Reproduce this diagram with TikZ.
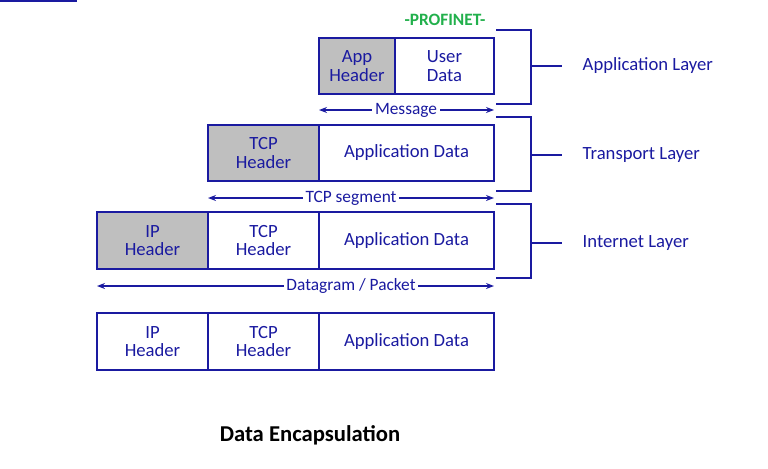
\documentclass[tikz,border=0pt]{standalone}
\usepackage{fontspec}
\setmainfont{Carlito}
\usetikzlibrary{arrows.meta}
\definecolor{db}{HTML}{1A1AA0}
\definecolor{gr}{HTML}{BFBFBF}
\definecolor{pg}{HTML}{22B04C}
\begin{document}
\begin{tikzpicture}[x=0.75pt,y=-0.75pt,
 box/.style={draw=db,line width=1.5pt,align=center,font=\fontsize{14}{14}\selectfont,text=db,inner sep=0pt},
 hd/.style={box,fill=gr},
 br/.style={draw=db,line width=1.5pt},
 arr/.style={draw=db,line width=1.2pt,{Stealth[length=6pt]}-{Stealth[length=6pt]}},
 lab/.style={text=db,font=\fontsize{13}{13}\selectfont,fill=white,inner sep=2pt},
 lay/.style={text=db,font=\fontsize{14}{14}\selectfont,anchor=west}]
\useasboundingbox (0,0) rectangle (768,468);
% row 1
\node[hd,minimum width=76\pgflinewidth] at (0,0) {};
\path[hd] (319,38) rectangle (395,94);
\node[hd,draw=none,fill=none] (ah) at (357,66) {App\\Header};
\path[box] (395,38) rectangle (494,94);
\node[text=db,align=center,font=\fontsize{14}{14}\selectfont] (ud) at (444.5,66) {User\\Data};
\node[font=\bfseries\fontsize{13}{13}\selectfont,text=pg] (pn) at (445,20) {-PROFINET-};
\coordinate (m1) at (319,110); \coordinate (m2) at (494,110);
\draw[arr] (m1) -- (m2);
\node[lab] (msg) at (406,110) {Message};
% row 2
\path[hd] (208,125) rectangle (319,181);
\node[text=db,align=center,font=\fontsize{14}{14}\selectfont] (th2) at (263.5,153) {TCP\\Header};
\path[box] (319,125) rectangle (494,181);
\node[text=db,font=\fontsize{14}{14}\selectfont] (ad2) at (406.5,153) {Application Data};
\coordinate (s1) at (208,198); \coordinate (s2) at (494,198);
\draw[arr] (s1) -- (s2);
\node[lab] (seg) at (351,198) {TCP segment};
% row 3
\path[hd] (97,212) rectangle (208,269);
\path[box] (208,212) rectangle (319,269);
\path[box] (319,212) rectangle (494,269);
\node[text=db,align=center,font=\fontsize{14}{14}\selectfont] (ip3) at (152.5,240.5) {IP\\Header};
\node[text=db,align=center,font=\fontsize{14}{14}\selectfont] (th3) at (263.5,240.5) {TCP\\Header};
\node[text=db,font=\fontsize{14}{14}\selectfont] (ad3) at (406.5,240.5) {Application Data};
\coordinate (d1) at (97,286); \coordinate (d2) at (494,286);
\draw[arr] (d1) -- (d2);
\node[lab] (dg) at (351,286) {Datagram / Packet};
% row 4
\path[box] (97,313) rectangle (208,370);
\path[box] (208,313) rectangle (319,370);
\path[box] (319,313) rectangle (494,370);
\node[text=db,align=center,font=\fontsize{14}{14}\selectfont] (ip4) at (152.5,341.5) {IP\\Header};
\node[text=db,align=center,font=\fontsize{14}{14}\selectfont] (th4) at (263.5,341.5) {TCP\\Header};
\node[text=db,font=\fontsize{14}{14}\selectfont] (ad4) at (406.5,341.5) {Application Data};
% brackets
\foreach \t/\b/\m/\n/\l in {30/104/66/a/Application Layer,117/191/155/t/Transport Layer,204/278/243/i/Internet Layer}{
 \draw[br] (496,\t) -- (531,\t) -- (531,\b) -- (496,\b);
 \draw[br] (531,\m) -- (562,\m);
 \node[lay] (\n) at (578,\m) {\l};
}
\node[font=\bfseries\fontsize{17}{17}\selectfont] (title) at (310,435) {Data Encapsulation};
\end{tikzpicture}
\end{document}
